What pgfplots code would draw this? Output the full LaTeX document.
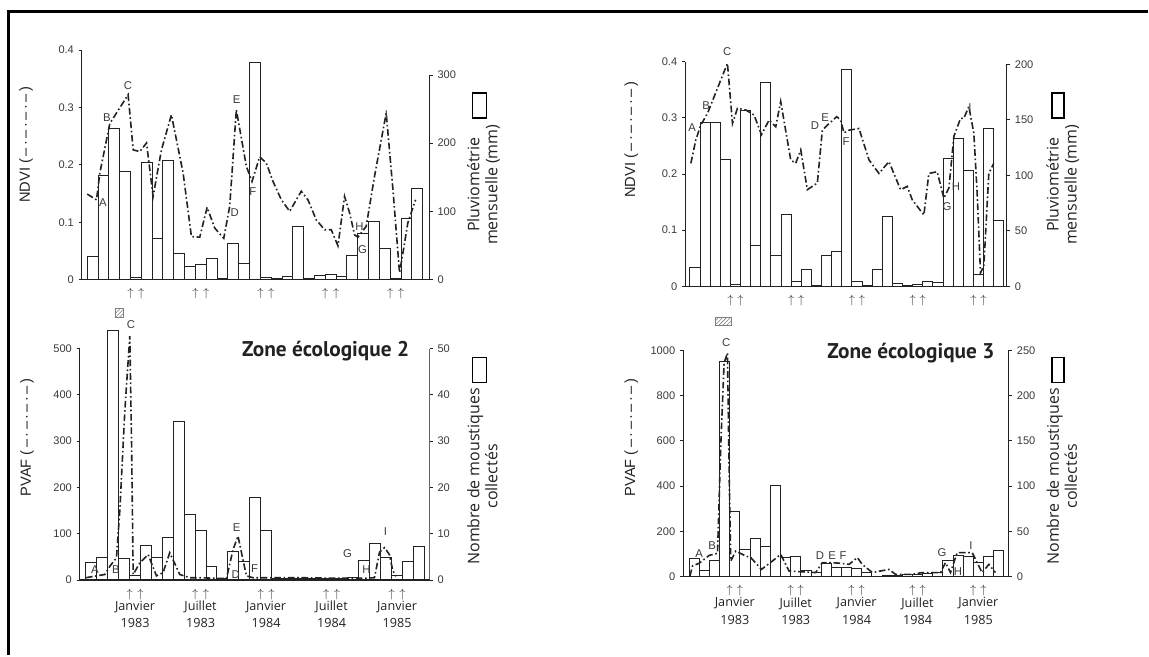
\documentclass[border=0pt]{standalone}
\usepackage{pgfplots}
\pgfplotsset{compat=1.18}
\usepackage{fontspec}
\setmainfont{Liberation Sans}
\newfontfamily\osans{Open Sans}
\newfontfamily\ptsans{PT Sans}
\usetikzlibrary{patterns}
\definecolor{ink}{HTML}{222222}
\definecolor{scan}{HTML}{3A3A3A}
\definecolor{txt}{HTML}{222222}
\pgfplotsset{
  base/.style={
    scale only axis, clip=false, anchor=south west,
    axis line style={draw=ink, line width=0.8pt, -},
    tick style={draw=ink, line width=0.6pt},
    tick align=outside, major tick length=2.5pt,
    /pgf/number format/assume math mode=true,
    /pgf/number format/1000 sep={},
    tick label style={font=\fontsize{8.3}{9}\selectfont, text=scan},
    ymin=0,
  },
  lft/.style={base, axis y line*=left, axis x line*=bottom,
    xtick={4,5,10,11,16,17,22,23,28,29},
    xticklabels={$\uparrow$,$\uparrow$,$\uparrow$,$\uparrow$,$\uparrow$,$\uparrow$,$\uparrow$,$\uparrow$,$\uparrow$,$\uparrow$},
    xtick style={draw=none},
    xticklabel style={inner sep=0pt, anchor=north, yshift=-4pt, font=\fontsize{9}{9}\selectfont},
  },
  months/.style={
    extra x ticks={4.5,10.5,16.5,22.5,28.5},
    extra x tick labels={Janvier\\1983,Juillet\\1983,Janvier\\1984,Juillet\\1984,Janvier\\1985},
    extra x tick style={xtick style={draw=none}, xticklabel style={font=\osans\fontsize{9.5}{13}\selectfont, text=txt, align=center, yshift=-9pt}},
  },
  rgt/.style={base, axis y line*=right, axis x line=none},
  dd/.style={draw=ink, line width=1.2pt, dash pattern=on 5pt off 2pt on 1.2pt off 2pt, mark=none},
  bars/.style={ybar interval, draw=ink, fill=none, line width=0.7pt},
}
\newcommand{\lbl}[2]{\node[font=\fontsize{8.5}{9}\selectfont, text=scan, inner sep=0pt] at (#1) {#2};}
\begin{document}
\begin{tikzpicture}
\begin{scope}[x=0.75pt,y=0.75pt]
\path (0,0) rectangle (1149,656);
\draw[line width=2pt, black] (8.7,0) -- (8.7,644.7) -- (1149,644.7);
\end{scope}

% ---------------- Panel 1 (top left)
\begin{axis}[rgt, at={(61.5pt,282pt)}, width=261pt, height=153.75pt, xmin=-0.49, xmax=31.63, ymax=300, ytick={0,100,200,300}]
\addplot[bars] coordinates {(0,34)(1,153)(2,222)(3,158)(4,3)(5,172)(6,61)(7,174)(8,39)(9,20)(10,23)(11,31)(12,2)(13,53)(14,24)(15,318)(16,3)(17,2)(18,4)(19,78)(20,2)(21,6)(22,8)(23,5)(24,35)(25,67)(26,86)(27,46)(28,2)(29,90)(30,133)(31,0)};
\end{axis}
\begin{axis}[lft, at={(61.5pt,282pt)}, width=261pt, height=172.5pt, xmin=-0.49, xmax=31.63, ymax=0.4, ytick={0,0.1,0.2,0.3,0.4}, yticklabel style={/pgf/number format/fixed,/pgf/number format/precision=1}]
\addplot[dd] coordinates {(0,0.149)(0.86,0.139)(1.17,0.186)(2.09,0.272)(3.78,0.322)(4.25,0.226)(4.86,0.223)(5.48,0.238)(6.09,0.145)(6.86,0.226)(7.78,0.287)(8.86,0.186)(9.63,0.075)(10.40,0.074)(11.08,0.126)(11.78,0.090)(12.62,0.072)(13.17,0.128)(13.78,0.296)(14.71,0.197)(15.23,0.171)(15.94,0.214)(16.55,0.203)(17.17,0.171)(17.94,0.139)(18.71,0.119)(19.78,0.154)(20.40,0.139)(21.17,0.104)(21.94,0.087)(22.55,0.087)(23.17,0.059)(23.78,0.145)(24.25,0.116)(24.71,0.078)(25.02,0.074)(25.78,0.093)(26.55,0.180)(27.63,0.290)(28.25,0.157)(28.86,0.012)(29.17,0.046)(29.63,0.099)(30.34,0.139)};
\end{axis}

% ---------------- Panel 2 (top right)
\begin{axis}[rgt, at={(514.5pt,276.975pt)}, width=241.5pt, height=166.8pt, xmin=-0.46, xmax=31.30, ymax=200, ytick={0,50,100,150,200}]
\addplot[bars] coordinates {(0,17)(1,148)(2,148)(3,114)(4,2)(5,158)(6,37)(7,184)(8,28)(9,65)(10,4.5)(11,15)(12,1)(13,28)(14,31)(15,195)(16,4.5)(17,1)(18,15)(19,63)(20,3)(21,0.5)(22,1.5)(23,4.5)(24,3.5)(25,115)(26,133)(27,104)(28,11)(29,142)(30,59)(31,0)};
\end{axis}
\begin{axis}[lft, at={(514.5pt,276.975pt)}, width=241.5pt, height=168.75pt, xmin=-0.46, xmax=31.30, ymax=0.4, ytick={0,0.1,0.2,0.3,0.4}, yticklabel style={/pgf/number format/fixed,/pgf/number format/precision=1}]
\addplot[dd] coordinates {(0.10,0.219)(0.59,0.261)(1.08,0.287)(1.74,0.308)(3.71,0.397)(4.21,0.290)(4.70,0.317)(5.52,0.314)(6.34,0.305)(7.07,0.270)(7.82,0.296)(8.48,0.284)(8.97,0.329)(9.96,0.225)(10.45,0.219)(10.95,0.243)(11.60,0.172)(12.59,0.184)(13.08,0.278)(13.58,0.287)(14.50,0.302)(14.89,0.296)(15.22,0.273)(15.71,0.278)(16.70,0.281)(17.69,0.225)(18.67,0.201)(19.66,0.222)(20.81,0.172)(21.47,0.178)(21.96,0.154)(23.11,0.127)(23.60,0.201)(24.42,0.204)(25.08,0.157)(25.58,0.175)(26.07,0.267)(26.73,0.299)(27.05,0.299)(27.55,0.320)(28.04,0.273)(28.37,0.166)(28.70,0.024)(29.03,0.036)(29.52,0.201)(30.01,0.219)};
\end{axis}

% ---------------- Panel 3 (bottom left)
\begin{axis}[rgt, at={(60pt,56.475pt)}, width=262.5pt, height=173.8pt, xmin=-0.55, xmax=31.47, ymax=50, ytick={0,10,20,30,40,50}, axis line style={draw=ink!70, line width=0.5pt}]
\addplot[bars] coordinates {(0,3.7)(1,4.8)(2,54)(3,4.6)(4,0.9)(5,7.5)(6,4.8)(7,9.1)(8,34.3)(9,14.2)(10,10.7)(11,2.9)(12,0.3)(13,6.1)(14,4.0)(15,17.8)(16,10.7)(17,0.4)(18,0.4)(19,0.4)(20,0.4)(21,0.4)(22,0.4)(23,0.4)(24,0.5)(25,4.3)(26,7.9)(27,4.8)(28,0.9)(29,4.1)(30,7.3)(31,0)};
\end{axis}
\begin{axis}[lft, months, at={(60pt,56.475pt)}, width=262.5pt, height=173.8pt, xmin=-0.55, xmax=31.47, ymax=500, ytick={0,100,200,300,400,500}]
\addplot[dd] coordinates {(0,5)(0.98,9)(1.74,12)(2.20,30)(2.80,48)(3.11,152)(3.57,368)(4.02,527)(4.18,296)(4.33,12)(4.94,37)(5.70,55)(6.46,9)(7.07,16)(7.68,59)(8.60,12)(9.51,5)(10.43,5)(11.65,4)(12.87,3)(13.48,66)(13.93,95)(14.33,50)(14.70,9)(15.30,5)(19.57,5)(22.62,4)(25.67,4)(26.43,5)(26.89,60)(27.35,70)(27.80,55)(28.11,20)(28.41,8)};
\end{axis}

% ---------------- Panel 4 (bottom right)
\begin{axis}[rgt, at={(513pt,59.025pt)}, width=244.5pt, height=170pt, xmin=-0.59, xmax=31.50, ymax=250, ytick={0,50,100,150,200,250}]
\addplot[bars] coordinates {(0,19.9)(1,6.3)(2,18.4)(3,238)(4,72.4)(5,30.1)(6,42.6)(7,33.8)(8,100.7)(9,21)(10,22.8)(11,6.3)(12,4.4)(13,14.7)(14,9.9)(15,9.9)(16,9.2)(17,5.1)(18,0.7)(19,1.5)(20,1)(21,2)(22,2.5)(23,4)(24,4.4)(25,18.4)(26,23.5)(27,22.8)(28,15.4)(29,22.8)(30,29.4)(31,0)};
\end{axis}
\begin{axis}[lft, months, at={(513pt,59.025pt)}, width=244.5pt, height=170pt, xmin=-0.59, xmax=31.50, ymax=1000, ytick={0,200,400,600,800,1000}]
\addplot[dd] coordinates {(0.07,3)(0.33,47)(0.98,59)(1.97,94)(2.79,103)(3.12,590)(3.44,944)(3.77,988)(3.94,444)(4.10,69)(4.59,113)(5.58,91)(6.07,84)(7.12,32)(8.20,69)(9.02,98)(9.84,25)(10.83,22)(12.47,18)(13.12,62)(13.94,62)(14.93,59)(15.75,54)(16.57,84)(17.06,54)(18.04,18)(18.86,25)(19.69,32)(20.34,10)(21.98,10)(22.97,18)(23.95,18)(24.77,18)(25.26,62)(25.75,18)(26.41,106)(27.23,106)(27.89,106)(28.54,47)(28.87,18)(29.53,54)(30.18,18)};
\end{axis}

\begin{scope}[x=0.75pt,y=0.75pt]
% ---------------- axis titles
\begin{scope}[every node/.style={rotate=90, text=txt, align=center, inner sep=0pt}]
\node[font=\fontsize{11}{12}\selectfont] at (26,511) {NDVI (\,–\,·\,–\,·\,–\,·\,–\,)};
\node[font=\fontsize{11}{12}\selectfont] at (632,516) {NDVI (\,–\,·\,–\,·\,–\,·\,–\,)};
\node[font=\fontsize{11}{12}\selectfont] at (27,218) {PVAF (\,–\,·\,–\,·\,–\,·\,–\,)};
\node[font=\fontsize{11}{12}\selectfont] at (632,218) {PVAF (\,–\,·\,–\,·\,–\,·\,–\,)};
\node[font=\osans\fontsize{12}{13.5}\selectfont] at (484,471) {Pluviométrie\\mensuelle (mm)};
\node[font=\osans\fontsize{12}{13.5}\selectfont] at (1064,471) {Pluviométrie\\mensuelle (mm)};
\node[font=\osans\fontsize{12}{13.5}\selectfont] at (483,179) {Nombre de moustiques\\collectés};
\node[font=\osans\fontsize{12}{13.5}\selectfont] at (1063,179) {Nombre de moustiques\\collectés};
\end{scope}
\node[font=\ptsans\bfseries\fontsize{16}{18}\selectfont, text=txt] at (326,305) {Zone écologique 2};
\node[font=\ptsans\bfseries\fontsize{16}{18}\selectfont, text=txt] at (912,302) {Zone écologique 3};

% ---------------- legend boxes and hatched markers
\draw[line width=1.1pt, black] (473,538) rectangle (487,563);
\draw[line width=1.1pt, black] (1053,538) rectangle (1065,563);
\draw[line width=1.1pt, black] (473,273) rectangle (487,298);
\draw[line width=1.1pt, black] (1053,273) rectangle (1065,298);
\fill[pattern=north east lines, pattern color=gray] (115,338) rectangle (123,347);
\draw[gray, line width=0.4pt] (115,338) rectangle (123,347);
\fill[pattern=north east lines, pattern color=gray] (716,330) rectangle (732,338);
\draw[gray, line width=0.4pt] (716,330) rectangle (732,338);

% ---------------- letters
\lbl{103,453}{A}\lbl{107,538}{B}\lbl{128,570}{C}\lbl{235,443}{D}\lbl{237,556}{E}\lbl{253,464}{F}\lbl{363,406}{G}\lbl{360,429}{H}\lbl{387,541}{I}
\lbl{693,528}{A}\lbl{707,550}{B}\lbl{728,604}{C}\lbl{816,530}{D}\lbl{826,538}{E}\lbl{847,514}{F}\lbl{948,449}{G}\lbl{957,469}{H}\lbl{971,548}{I}
\lbl{95,86}{A}\lbl{116,86}{B}\lbl{131,331}{C}\lbl{236,81}{D}\lbl{237,128}{E}\lbl{255,87}{F}\lbl{348,102}{G}\lbl{367,86}{H}\lbl{386,124}{I}
\lbl{700,102}{A}\lbl{713,110}{B}\lbl{727,313}{C}\lbl{821,100}{D}\lbl{833,100}{E}\lbl{844,100}{F}\lbl{943,103}{G}\lbl{959,84}{H}\lbl{972,110}{I}
\end{scope}
\end{tikzpicture}
\end{document}
